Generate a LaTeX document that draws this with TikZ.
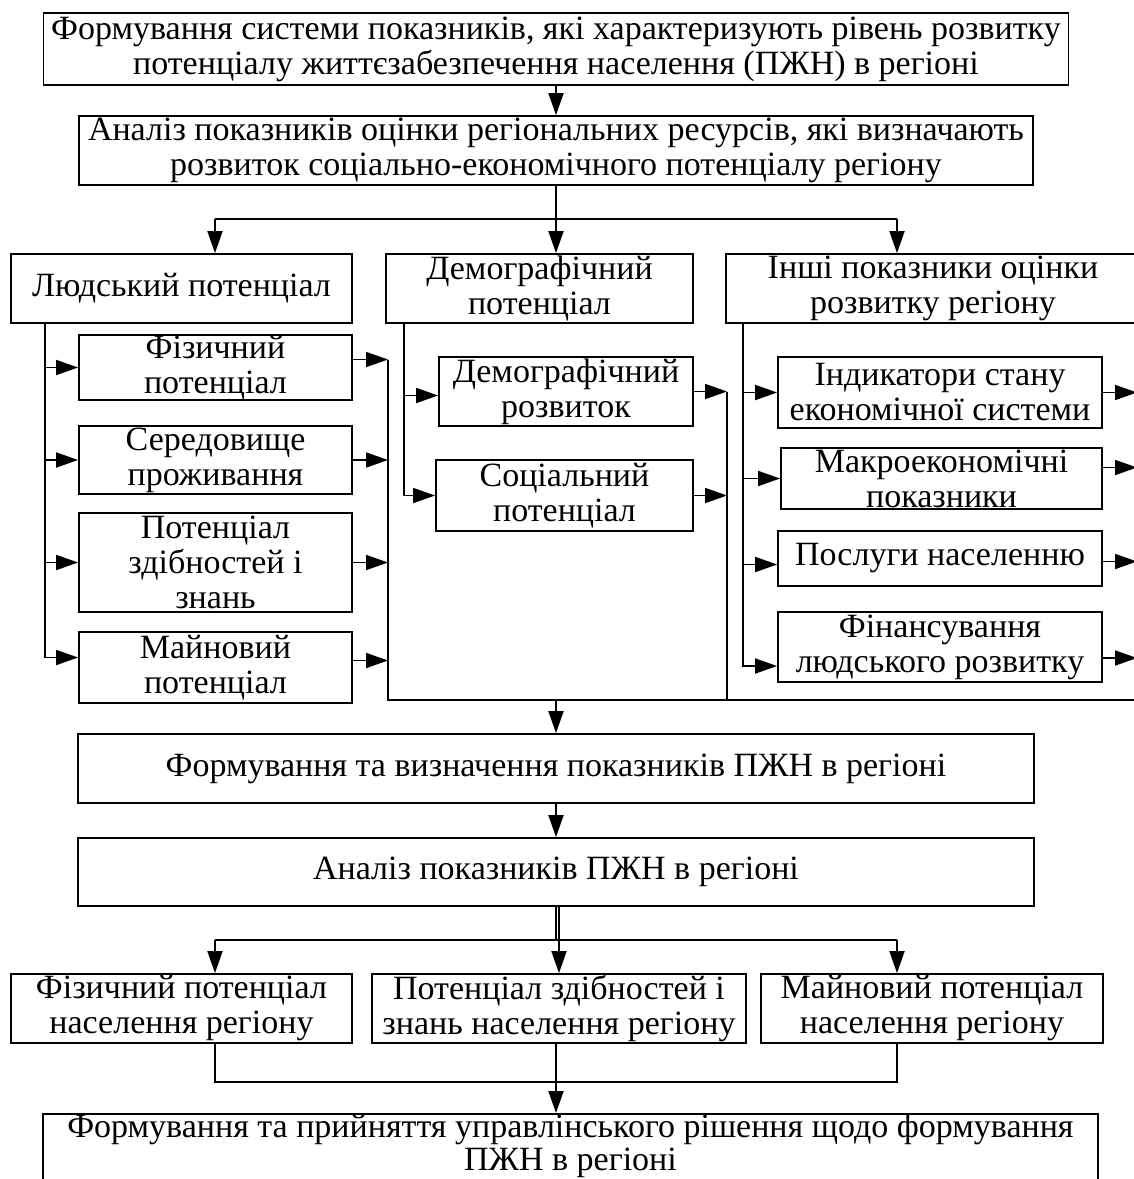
\documentclass[tikz,border=0pt]{standalone}
\usepackage{fontspec}
\setmainfont{Liberation Serif}
\usetikzlibrary{arrows.meta}

\begin{document}
\begin{tikzpicture}[
    x=1pt, y=-1pt,
    % Style definitions
    box/.style={rectangle, draw=black, line width=1.8pt, inner sep=0pt,
                align=center, font=\fontsize{34}{35}\selectfont},
    line/.style={line width=1.8pt},
    arrow/.style={-{Triangle[length=22pt, width=15pt]}, line width=1.8pt},
]
\useasboundingbox (0,0) rectangle (1134,1179);
\clip (0,0) rectangle (1134,1179);

% Top
\node[box, minimum width=1025pt, minimum height=72pt] (form) at (556,49)
    {Формування системи показників, які характеризують рівень розвитку\\потенціалу життєзабезпечення населення (ПЖН)  в регіоні};
\node[box, minimum width=954pt, minimum height=69pt] (anres) at (556,150.5)
    {Аналіз показників оцінки регіональних ресурсів, які визначають\\розвиток соціально-економічного потенціалу регіону};

% Three groups
\node[box, minimum width=341pt, minimum height=69pt] (hum) at (181.5,288.5) {Людський потенціал};
\node[box, minimum width=307pt, minimum height=69pt] (dem) at (539.5,288.5) {Демографічний\\потенціал};
\node[box, minimum width=414pt, minimum height=69pt] (oth) at (933,288.5) {Інші показники оцінки\\розвитку регіону};

\node[box, minimum width=273pt, minimum height=61pt] (fiz) at (215.5,367.5) {Фізичний\\потенціал};
\node[box, minimum width=273pt, minimum height=68pt] (ser) at (215.5,460) {Середовище\\проживання};
\node[box, minimum width=273pt, minimum height=99pt] (zdib) at (215.5,562.5) {Потенціал\\здібностей і\\знань};
\node[box, minimum width=273pt, minimum height=71pt] (mayn) at (215.5,667.5) {Майновий\\потенціал};

\node[box, minimum width=254pt, minimum height=69pt] (drozv) at (566,391.5) {Демографічний\\розвиток};
\node[box, minimum width=257pt, minimum height=71pt] (soc) at (564.5,495.5) {Соціальний\\потенціал};

\node[box, minimum width=324pt, minimum height=71pt] (ind) at (940,392.5) {Індикатори стану\\економічної системи};
\node[box, minimum width=321pt, minimum height=61pt] (makro) at (941.5,478.5) {Макроекономічні\\показники};
\node[box, minimum width=324pt, minimum height=55pt] (posl) at (940,558.5) {Послуги населенню};
\node[box, minimum width=324pt, minimum height=70pt] (fin) at (940,647) {Фінансування\\людського розвитку};

% Bottom
\node[box, minimum width=956pt, minimum height=69pt] (fviz) at (556,768.5) {Формування та визначення показників ПЖН в регіоні};
\node[box, minimum width=956pt, minimum height=68pt] (anpzh) at (556,872) {Аналіз показників ПЖН в регіоні};
\node[box, minimum width=341pt, minimum height=69pt] (pfiz) at (181.5,1008.5) {Фізичний потенціал\\населення регіону};
\node[box, minimum width=374pt, minimum height=69pt] (pzdib) at (559,1008.5) {Потенціал здібностей і\\знань населення регіону};
\node[box, minimum width=342pt, minimum height=69pt] (pmayn) at (932,1008.5) {Майновий потенціал\\населення регіону};
\node[box, minimum width=1055pt, anchor=north, text depth=32pt, font=\fontsize{34}{33}\selectfont] (rish) at (570.5,1113)
    {Формування та прийняття управлінського рішення щодо формування\\ПЖН в  регіоні};

% Branch points
\coordinate (br) at (556,219);
\coordinate (brL) at (215,219);
\coordinate (brR) at (897,219);
\coordinate (spH) at (45,323);
\coordinate (spD) at (404,323);
\coordinate (spO) at (743,323);
\coordinate (colH) at (388,359.5);
\coordinate (colD) at (727,391.5);
\coordinate (colO) at (1137,392.5);
\coordinate (bot) at (556,700);
\coordinate (brB) at (556,940);
\coordinate (brBL) at (215,940);
\coordinate (brBR) at (897,940);
\coordinate (jn) at (556,1082);
\coordinate (jnL) at (215,1082);
\coordinate (jnR) at (897,1082);

% Arrows
\draw[arrow] (form.south) -- (form.south |- anres.north);
\draw[line] (anres.south -| br) -- (br);
\draw[line] (brL) -- (brR);
\draw[arrow] (brL) -- (brL |- hum.north);
\draw[arrow] (br) -- (br |- dem.north);
\draw[arrow] (brR) -- (brR |- oth.north);

% human potential
\draw[arrow] (spH) |- ([yshift=10pt]mayn.west);
\foreach \b in {fiz, ser, zdib} \draw[arrow] (spH |- \b.west) -- (\b.west);
\draw[arrow] ([yshift=8pt]fiz.east) -- (colH);
\draw[arrow] (ser.east) -- (ser.east -| colH);
\draw[arrow] (zdib.east) -- (zdib.east -| colH);
\draw[arrow] ([yshift=7pt]mayn.east) -- ([yshift=7pt]mayn.east -| colH);

% demographic potential
\draw[arrow] (spD) |- (soc.west);
\draw[arrow] ([yshift=-4pt]drozv.west -| spD) -- ([yshift=-4pt]drozv.west);
\draw[arrow] (drozv.east) -- (colD);
\draw[arrow] (soc.east) -- (soc.east -| colD);

% other indicators
\draw[arrow] (spO) |- ([yshift=-19pt]fin.west);
\draw[arrow] (spO |- ind.west) -- (ind.west);
\draw[arrow] (spO |- makro.west) -- (makro.west);
\draw[arrow] ([yshift=-6pt]posl.west -| spO) -- ([yshift=-6pt]posl.west);
\draw[arrow] (ind.east) -- (colO);
\draw[arrow] ([yshift=11pt]makro.east) -- ([yshift=11pt]makro.east -| colO);
\draw[arrow] ([yshift=-3pt]posl.east) -- ([yshift=-3pt]posl.east -| colO);
\draw[arrow] ([yshift=-11pt]fin.east) -- ([yshift=-11pt]fin.east -| colO);

% collectors
\draw[line] (colH) -- (colH |- bot) -- (colO |- bot);
\draw[line] (colD) -- (colD |- bot);
\draw[line] (colO) -- (colO |- bot);
\draw[arrow] (bot) -- (fviz.north);

% lower part
\draw[arrow] (fviz.south) -- (anpzh.north);
\draw[line] (anpzh.south) -- (brB);
\draw[arrow] ([xshift=3pt]anpzh.south) -- (pzdib.north);
\draw[line] (brBL) -- (brBR);
\draw[arrow] (brBL) -- (brBL |- pfiz.north);
\draw[arrow] (brBR) -- (brBR |- pmayn.north);
\draw[line] (pfiz.south -| jnL) -- (jnL) -- (jnR) -- (pmayn.south -| jnR);
\draw[line] (pzdib.south -| jn) -- (jn);
\draw[arrow] (jn) -- (jn |- rish.north);

\end{tikzpicture}
\end{document}
